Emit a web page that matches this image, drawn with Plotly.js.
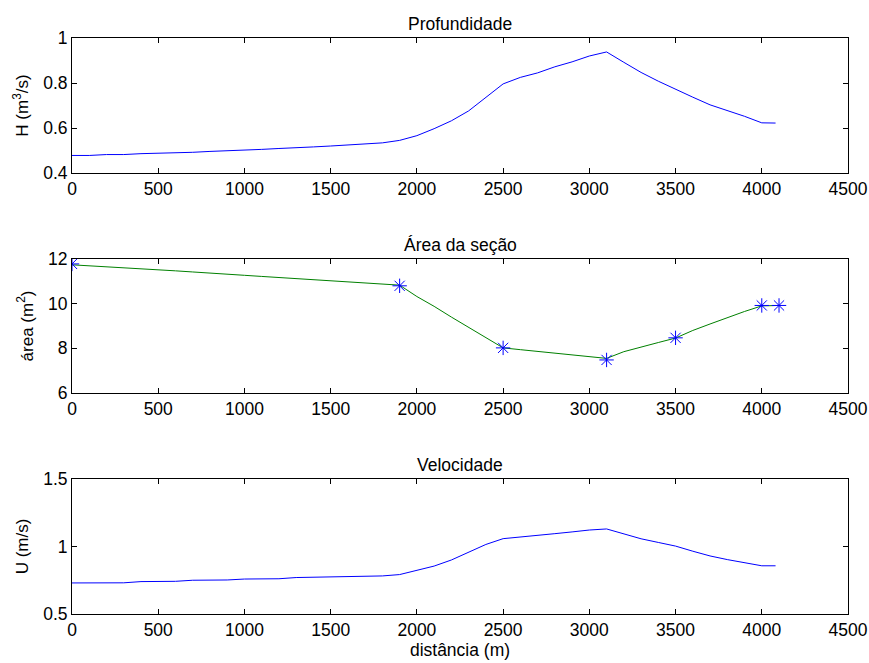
<!DOCTYPE html>
<html>
<head>
<meta charset="utf-8">
<script src="https://cdn.plot.ly/plotly-3.0.1.min.js"></script>
<style>html,body{margin:0;padding:0;background:#fff;}#chart{width:869px;height:663px;}</style>
</head>
<body>
<div id="chart"></div>
<script>
// distance grid (m)
const distH = [0,100,200,300,400,500,600,700,800,900,1000,1100,1200,1300,1400,1500,1600,1700,1800,1900,2000,2100,2200,2300,2400,2500,2600,2700,2800,2900,3000,3100,3200,3300,3400,3500,3600,3700,3800,3900,4000,4080];
const depthH = [0.478,0.478,0.482,0.482,0.486,0.487,0.491,0.492,0.496,0.498,0.502,0.505,0.509,0.511,0.516,0.520,0.524,0.528,0.534,0.545,0.566,0.597,0.632,0.676,0.735,0.796,0.825,0.845,0.872,0.894,0.920,0.938,0.892,0.847,0.808,0.771,0.737,0.703,0.678,0.652,0.623,0.622];

const distA = [0,100,200,300,400,500,600,700,800,900,1000,1100,1200,1300,1400,1500,1600,1700,1800,1900,2000,2100,2200,2300,2400,2500,2600,2700,2800,2900,3000,3100,3200,3300,3400,3500,3600,3700,3800,3900,4000,4100];
const areaA = [11.74,11.70,11.65,11.60,11.57,11.54,11.47,11.42,11.36,11.31,11.27,11.22,11.17,11.13,11.07,11.02,10.97,10.91,10.86,10.83,10.32,9.88,9.40,8.93,8.47,8.02,7.94,7.86,7.79,7.71,7.63,7.55,7.85,8.07,8.26,8.46,8.80,9.09,9.38,9.65,9.90,9.92];

const sectionX = [0,1900,2500,3100,3500,4000,4100];
const sectionArea = [11.78,10.80,8.02,7.48,8.47,9.92,9.92];

const distU = distH;
const velU = [0.730,0.730,0.730,0.731,0.740,0.741,0.742,0.750,0.751,0.752,0.759,0.760,0.761,0.770,0.772,0.773,0.780,0.781,0.782,0.792,0.826,0.855,0.900,0.960,1.015,1.058,1.072,1.085,1.095,1.108,1.122,1.130,1.095,1.057,1.030,1.003,0.965,0.930,0.903,0.878,0.857,0.857];

const xTicks = [0,500,1000,1500,2000,2500,3000,3500,4000,4500];

const FONT = 'Liberation Sans, Arial, sans-serif';
const TICKF = {family:FONT, size:17.5, color:'#000'};
const TITLEF = {family:FONT, size:17.5, color:'#000'};
const traces = [
  {x: distH, y: depthH, xaxis:'x', yaxis:'y', mode:'lines', line:{color:'#0000ff', width:1}},
  {x: distA, y: areaA, xaxis:'x2', yaxis:'y2', mode:'lines', line:{color:'#008000', width:1}},
  {x: sectionX, y: sectionArea, xaxis:'x2', yaxis:'y2', mode:'markers', marker:{symbol:'asterisk-open', size:12, color:'#0000ff', line:{color:'#0000ff', width:1}}},
  {x: distU, y: velU, xaxis:'x3', yaxis:'y3', mode:'lines', line:{color:'#0000ff', width:1}}
];

function xax(anchor, extra) {
  return Object.assign({anchor: anchor, range:[0,4500], tickvals: xTicks, ticks:'inside', ticklen:5, tickcolor:'#000',
    showline:true, linecolor:'#000', linewidth:1, mirror:'ticks', showgrid:false, zeroline:false,
    tickfont:TICKF}, extra||{});
}
function yax(anchor, domain, range, dtick, title) {
  return {anchor: anchor, domain: domain, range: range, dtick: dtick, tick0: range[0], ticks:'inside', ticklen:5, tickcolor:'#000',
    showline:true, linecolor:'#000', linewidth:1, mirror:'ticks', showgrid:false, zeroline:false,
    tickfont:TICKF,
    title:{text:title, font:{family:FONT, size:17, color:'#000'}, standoff:10}};
}

const layout = {
  width: 869, height: 663,
  margin: {l:72, r:21, t:38, b:49},
  paper_bgcolor:'#fff', plot_bgcolor:'#fff',
  showlegend:false,
  font:{family:FONT, size:17, color:'#000'},
  xaxis: xax('y'),
  xaxis2: xax('y2'),
  xaxis3: xax('y3', {title:{text:'distância (m)', font:TITLEF, standoff:2}}),
  yaxis: yax('x', [0.7656,1.0], [0.4,1.0], 0.2, 'H (m<sup>3</sup>/s)'),
  yaxis2: yax('x2', [0.3837,0.6163], [6,12], 2, 'área (m<sup>2</sup>)'),
  yaxis3: yax('x3', [0,0.2344], [0.5,1.5], 0.5, 'U (m/s)'),
  annotations: [
    {text:'Profundidade', xref:'x domain', yref:'y domain', x:0.5, y:1, yanchor:'bottom', yshift:2, showarrow:false, font:TITLEF},
    {text:'Área da seção', xref:'x2 domain', yref:'y2 domain', x:0.5, y:1, yanchor:'bottom', yshift:2, showarrow:false, font:TITLEF},
    {text:'Velocidade', xref:'x3 domain', yref:'y3 domain', x:0.5, y:1, yanchor:'bottom', yshift:2, showarrow:false, font:TITLEF}
  ]
};

Plotly.newPlot('chart', traces, layout, {staticPlot:true, displayModeBar:false});
</script>
</body>
</html>
